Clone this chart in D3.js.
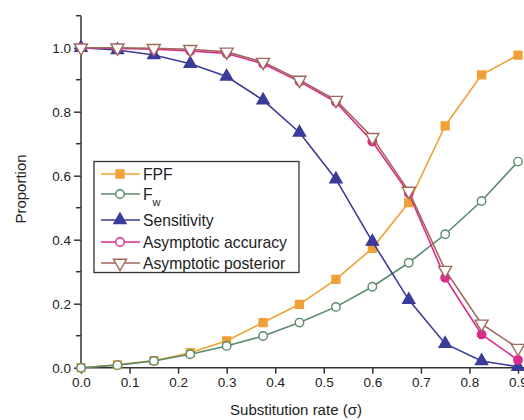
<!DOCTYPE html>
<html lang="en">
<head>
  <meta charset="UTF-8">
  <title>Proportion vs substitution rate</title>
  <script src="https://d3js.org/d3.v7.min.js"></script>
  <style>
    body { margin: 0; background: #fff; }
    svg { font-family: "Liberation Sans", Arial, sans-serif; }
    .axis path, .axis line { stroke: #333; stroke-width: 1.5; }
    .axis text { font-size: 13.5px; fill: #222; }
    .title { font-size: 15px; fill: #222; }
    .legend-text { font-size: 15.7px; fill: #222; }
  </style>
</head>
<body>
  <div id="chart"></div>

  <script>
    // substitution rate (x) and the five curves
    const sigma = [0, 0.075, 0.15, 0.225, 0.3, 0.375, 0.45, 0.525, 0.6, 0.675, 0.75, 0.825, 0.9];
    const fpf = [0, 0.009, 0.022, 0.047, 0.084, 0.141, 0.198, 0.276, 0.373, 0.516, 0.756, 0.915, 0.977];
    const fw = [0, 0.008, 0.021, 0.042, 0.068, 0.099, 0.141, 0.19, 0.253, 0.328, 0.417, 0.521, 0.644];
    const sensitivity = [1.0, 0.993, 0.977, 0.95, 0.91, 0.836, 0.735, 0.589, 0.394, 0.212, 0.075, 0.021, 0.003];
    const accuracy = [1.0, 0.998, 0.995, 0.99, 0.982, 0.95, 0.894, 0.83, 0.707, 0.545, 0.281, 0.104, 0.024];
    const posterior = [1.0, 1.0, 0.998, 0.995, 0.987, 0.955, 0.899, 0.836, 0.72, 0.552, 0.305, 0.137, 0.061];

    const seriesNames = ["FPF", "Fw", "Sensitivity", "Asymptotic accuracy", "Asymptotic posterior"];
    const xTicks = [0, 0.1, 0.2, 0.3, 0.4, 0.5, 0.6, 0.7, 0.8, 0.9];
    const yTicks = [0, 0.2, 0.4, 0.6, 0.8, 1.0];
    const yMinorTicks = [0.1, 0.3, 0.5, 0.7, 0.9, 1.1];

    const width = 524, height = 420;
    const x = d3.scaleLinear().domain([0, 0.9]).range([81, 518]);
    const y = d3.scaleLinear().domain([0, 1.1]).range([367.7, 15.7]);

    const svg = d3.select("#chart").append("svg")
      .attr("width", width)
      .attr("height", height);

    // axes
    const xAxis = svg.append("g")
      .attr("class", "axis")
      .attr("transform", `translate(0,${y(0)})`)
      .call(d3.axisBottom(x).tickValues(xTicks).tickFormat(d3.format(".1f")).tickSize(6).tickPadding(4).tickSizeOuter(0));
    xAxis.select(".domain").attr("d", `M${x(0)},0H${width}`);

    const yAxis = svg.append("g")
      .attr("class", "axis")
      .attr("transform", `translate(${x(0)},0)`)
      .call(d3.axisLeft(y).tickValues(yTicks).tickFormat(d3.format(".1f")).tickSize(7).tickPadding(3).tickSizeOuter(0));
    yAxis.select(".domain").attr("d", `M0,${y(0)}V${y(1.1)}`);

    svg.append("g")
      .attr("class", "axis")
      .attr("transform", `translate(${x(0)},0)`)
      .selectAll("line")
      .data(yMinorTicks)
      .join("line")
      .attr("x1", -5).attr("x2", 0)
      .attr("y1", d => y(d)).attr("y2", d => y(d));

    svg.append("text")
      .attr("class", "title")
      .attr("x", 296).attr("y", 415)
      .attr("text-anchor", "middle")
      .text("Substitution rate (σ)");

    svg.append("text")
      .attr("class", "title")
      .attr("transform", "translate(26,189) rotate(-90)")
      .attr("text-anchor", "middle")
      .text("Proportion");

    const series = [
      { name: seriesNames[0], values: fpf, color: "#f0a035", shape: d3.symbolSquare, size: 62, fill: "#f0a035" },
      { name: seriesNames[1], values: fw, color: "#5b8a6c", shape: d3.symbolCircle, size: 56, fill: "#fff" },
      { name: seriesNames[2], values: sensitivity, color: "#3b3b9a", shape: d3.symbolTriangle, size: 64, fill: "#3b3b9a" },
      { name: seriesNames[3], values: accuracy, color: "#dc2a8c", shape: d3.symbolCircle, size: 56, fill: "#dc2a8c" },
      { name: seriesNames[4], values: posterior, color: "#a0695b", shape: d3.symbolTriangle, size: 74, fill: "#fff", flip: true }
    ];

    const line = d3.line()
      .x((d, i) => x(sigma[i]))
      .y(d => y(d));

    series.forEach(s => {
      svg.append("path")
        .datum(s.values)
        .attr("fill", "none")
        .attr("stroke", s.color)
        .attr("stroke-width", 1.6)
        .attr("d", line);

      svg.append("g")
        .selectAll("path")
        .data(s.values)
        .join("path")
        .attr("d", d3.symbol(s.shape, s.size))
        .attr("transform", (d, i) => `translate(${x(sigma[i])},${y(d)})` + (s.flip ? " rotate(180)" : ""))
        .attr("fill", s.fill)
        .attr("stroke", s.color)
        .attr("stroke-width", 1.4);
    });

    // legend
    const legend = svg.append("g");
    legend.append("rect")
      .attr("x", 94).attr("y", 161.5)
      .attr("width", 205).attr("height", 111)
      .attr("fill", "#fff")
      .attr("stroke", "#333")
      .attr("stroke-width", 1.3);

    const rowY = [174, 194, 220, 242, 263];
    series.forEach((s, i) => {
      const g = legend.append("g").attr("transform", `translate(0,${rowY[i]})`);
      g.append("line")
        .attr("x1", 101).attr("x2", 140)
        .attr("stroke", s.color).attr("stroke-width", 1.6);
      g.append("path")
        .attr("d", d3.symbol(s.shape, s.size))
        .attr("transform", "translate(120,0)" + (s.flip ? " rotate(180)" : ""))
        .attr("fill", i === 3 ? "#fff" : s.fill)
        .attr("stroke", s.color)
        .attr("stroke-width", 1.4);
      const t = g.append("text")
        .attr("class", "legend-text")
        .attr("x", 143).attr("y", 5.5);
      if (s.name === "Fw") {
        t.append("tspan").text("F");
        t.append("tspan").attr("dy", 6).style("font-size", "11px").text("w");
      } else {
        t.text(s.name);
      }
    });
  </script>
</body>
</html>
